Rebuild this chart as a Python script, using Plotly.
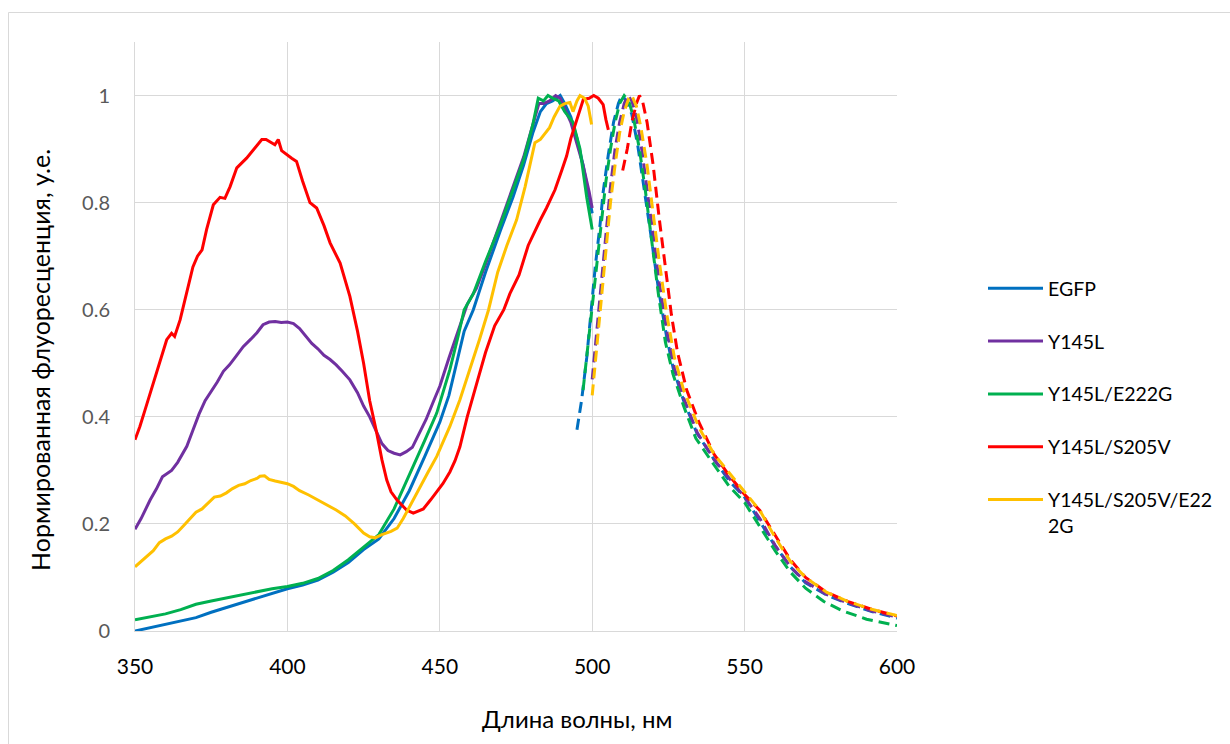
import plotly.graph_objects as go

# ---------------- data ----------------
series_names = ["EGFP", "Y145L", "Y145L/E222G", "Y145L/S205V", "Y145L/S205V/E22<br>2G"]
series_colors = ["#0070C0", "#7030A0", "#00B050", "#FF0000", "#FFC000"]

x_ticks = [350, 400, 450, 500, 550, 600]
y_ticks = [0, 0.2, 0.4, 0.6, 0.8, 1]

# excitation spectra (solid)
egfp_ex_nm = [350, 355, 360, 365, 370, 375, 380, 385, 390, 395, 400, 405, 410, 415, 420, 425, 430, 435,
              440, 445, 450, 453, 456, 458, 461, 465, 470, 474, 477.5, 480.5, 483, 485, 487, 489.5,
              491, 493, 495, 497, 499, 500]
egfp_ex = [0.0, 0.006, 0.013, 0.018, 0.025, 0.035, 0.044, 0.053, 0.062, 0.07, 0.079, 0.086, 0.095, 0.11,
           0.128, 0.152, 0.172, 0.21, 0.262, 0.325, 0.39, 0.44, 0.51, 0.56, 0.6, 0.67, 0.75, 0.81, 0.87,
           0.93, 0.97, 0.985, 0.99, 1.0, 0.985, 0.96, 0.92, 0.87, 0.81, 0.78]

y145l_ex_nm = [350, 352, 355, 357, 359, 362, 364, 367, 369, 371, 373, 375, 377, 379, 381, 383, 385.5, 388,
               390, 392, 394, 396, 398, 400, 402, 404, 406, 408, 410, 412, 414, 416, 418, 420.5, 423, 425,
               427, 429, 431, 433, 435, 437, 439, 441, 443, 445.5, 448, 450, 453, 456, 459, 462, 465, 470,
               474, 477.5, 480.5, 482.5, 484, 486, 488, 489.5, 491, 493, 495, 497, 499, 500]
y145l_ex = [0.19, 0.21, 0.245, 0.265, 0.288, 0.3, 0.315, 0.345, 0.375, 0.405, 0.43, 0.447, 0.465, 0.485,
            0.497, 0.512, 0.531, 0.545, 0.557, 0.572, 0.577, 0.578, 0.576, 0.577, 0.574, 0.565, 0.55, 0.537,
            0.527, 0.515, 0.507, 0.497, 0.485, 0.469, 0.445, 0.42, 0.4, 0.375, 0.35, 0.337, 0.332, 0.329,
            0.335, 0.343, 0.365, 0.395, 0.43, 0.457, 0.51, 0.56, 0.61, 0.64, 0.685, 0.765, 0.83, 0.885,
            0.945, 0.985, 0.985, 0.99, 1.0, 0.995, 0.975, 0.95, 0.91, 0.87, 0.82, 0.79]

e222g_ex_nm = [350, 355, 360, 365, 370, 375, 380, 385, 390, 395, 400, 405, 410, 415, 420, 425, 430, 435,
               440, 445, 449, 453.3, 456, 458, 461, 465, 470, 474, 477.5, 480.5, 482.3, 484, 485.5, 487,
               489, 491, 493.7, 496, 498.2, 500]
e222g_ex = [0.021, 0.027, 0.032, 0.04, 0.05, 0.056, 0.062, 0.068, 0.074, 0.079, 0.083, 0.089, 0.098, 0.113,
            0.133, 0.157, 0.18, 0.228, 0.29, 0.355, 0.407, 0.488, 0.55, 0.6, 0.63, 0.69, 0.76, 0.825, 0.88,
            0.945, 0.995, 0.99, 1.0, 0.995, 0.99, 0.97, 0.95, 0.9, 0.81, 0.75]

s205v_ex_nm = [350, 351.6, 353.3, 356, 358.2, 360.4, 362, 363, 364.8, 366.4, 369, 370.5, 372, 373.5, 375.7,
               377.9, 379.5, 381.2, 383.4, 386.6, 389.4, 391.6, 393, 395.9, 397, 398.1, 401.4, 403, 405,
               407.4, 409.6, 412, 414, 417.3, 420.5, 423, 425, 427, 429.3, 431, 432.6, 434, 435.9, 439.1,
               441.3, 443, 444.6, 447, 449, 451, 453.3, 455, 456.6, 459, 462, 465, 468, 471, 473, 476, 479,
               481, 483, 485, 487.8, 490, 491.6, 493, 494.9, 496, 497.1, 499, 500.5, 502, 503.6, 504.5, 505.3]
s205v_ex = [0.357, 0.382, 0.413, 0.463, 0.5, 0.544, 0.556, 0.55, 0.581, 0.619, 0.68, 0.7, 0.712, 0.75, 0.796,
            0.81, 0.808, 0.83, 0.865, 0.883, 0.902, 0.918, 0.918, 0.908, 0.918, 0.897, 0.883, 0.877, 0.84,
            0.8, 0.79, 0.757, 0.725, 0.687, 0.625, 0.56, 0.5, 0.43, 0.37, 0.32, 0.282, 0.26, 0.245, 0.226,
            0.22, 0.224, 0.228, 0.245, 0.26, 0.275, 0.297, 0.318, 0.344, 0.4, 0.46, 0.52, 0.57, 0.6, 0.63,
            0.665, 0.72, 0.745, 0.768, 0.79, 0.824, 0.86, 0.887, 0.92, 0.955, 0.975, 0.993, 0.995, 1.0,
            0.995, 0.983, 0.955, 0.936]

s205v_e222g_ex_nm = [350, 352, 354, 356, 358, 360, 362, 364, 366, 368, 370, 372, 374, 376, 378, 380, 382, 384,
                     386, 388, 390, 391, 392.5, 394, 396, 398, 400, 402, 404, 407, 410, 413, 416, 419, 422,
                     425, 427, 428.7, 431, 434, 436, 438, 440, 443, 446, 449, 453.3, 456.6, 460, 463, 466,
                     469, 472, 475.2, 478, 480, 481.2, 483, 486, 487.5, 489.4, 491, 492.7, 493.7, 495, 496,
                     497.5, 498.7, 499.3, 499.8]
s205v_e222g_ex = [0.12, 0.13, 0.14, 0.15, 0.165, 0.172, 0.177, 0.185, 0.197, 0.21, 0.222, 0.228, 0.24, 0.25,
                  0.252, 0.258, 0.266, 0.272, 0.275, 0.281, 0.285, 0.289, 0.29, 0.283, 0.28, 0.277, 0.275,
                  0.27, 0.262, 0.254, 0.245, 0.235, 0.226, 0.215, 0.2, 0.183, 0.176, 0.174, 0.18, 0.186,
                  0.192, 0.21, 0.232, 0.265, 0.295, 0.326, 0.382, 0.432, 0.49, 0.544, 0.6, 0.67, 0.72, 0.768,
                  0.83, 0.88, 0.912, 0.918, 0.94, 0.96, 0.98, 0.985, 0.987, 0.97, 0.99, 1.0, 0.995, 0.98,
                  0.96, 0.946]

# emission spectra (dashed)
egfp_em_nm = [495, 496.5, 498.2, 499.8, 501, 502.6, 503.6, 505.3, 507, 508.6, 509.7, 511.3, 513, 515, 517.3,
              519.5, 521.7, 524.4, 526.6, 530, 534.3, 540, 545, 550, 554, 559.4, 565, 570, 577, 583.5, 592, 600]
egfp_em = [0.376, 0.43, 0.51, 0.61, 0.68, 0.76, 0.82, 0.89, 0.95, 0.985, 1.0, 0.99, 0.965, 0.905, 0.82,
           0.73, 0.64, 0.55, 0.49, 0.43, 0.37, 0.32, 0.28, 0.25, 0.214, 0.164, 0.12, 0.09, 0.067, 0.052,
           0.036, 0.024]

y145l_em_nm = [500, 501.5, 503, 504.5, 506, 507.5, 509, 510.5, 511.7, 513, 514.5, 516, 518, 520, 522, 524.5,
               527, 530, 534.5, 540, 545, 550, 555, 560, 565, 570, 577, 584, 592, 600]
y145l_em = [0.47, 0.56, 0.66, 0.75, 0.83, 0.9, 0.95, 0.985, 1.0, 0.99, 0.96, 0.91, 0.83, 0.74, 0.65, 0.56,
            0.49, 0.435, 0.37, 0.32, 0.285, 0.25, 0.21, 0.16, 0.12, 0.092, 0.068, 0.052, 0.037, 0.026]

e222g_em_nm = [497, 498.5, 500, 501.5, 503, 504.5, 506, 507.5, 509, 510.5, 512, 513.5, 515.5, 517.5, 519.5,
               521.7, 524, 526.5, 530, 534, 540, 545, 550, 555, 560, 565, 570, 576, 582, 590, 600]
e222g_em = [0.45, 0.53, 0.61, 0.69, 0.77, 0.84, 0.9, 0.95, 0.985, 1.0, 0.99, 0.96, 0.9, 0.82, 0.73, 0.63,
            0.54, 0.48, 0.42, 0.36, 0.31, 0.27, 0.24, 0.195, 0.15, 0.11, 0.08, 0.055, 0.038, 0.022, 0.01]

s205v_em_nm = [510, 511.5, 513, 514.5, 515.5, 516.5, 518, 520, 522, 524, 526, 528, 531, 535, 540, 545, 550,
               555, 560, 565, 570, 577, 584, 592, 600]
s205v_em = [0.86, 0.9, 0.95, 0.985, 1.0, 0.99, 0.95, 0.87, 0.77, 0.68, 0.59, 0.52, 0.45, 0.39, 0.33, 0.29,
            0.255, 0.225, 0.178, 0.133, 0.1, 0.072, 0.055, 0.04, 0.028]

s205v_e222g_em_nm = [500, 501.5, 503, 504.5, 506, 507.5, 509, 510.5, 512, 513, 514.5, 516, 518, 520, 522,
                     524.5, 527, 530, 535, 540, 545, 550, 555, 560, 565, 570, 577, 584, 592, 600]
s205v_e222g_em = [0.44, 0.53, 0.62, 0.72, 0.8, 0.87, 0.93, 0.97, 0.995, 1.0, 0.98, 0.94, 0.87, 0.78, 0.69,
                  0.59, 0.51, 0.45, 0.38, 0.33, 0.295, 0.26, 0.225, 0.175, 0.13, 0.1, 0.072, 0.055, 0.04,
                  0.029]

x_title = "Длина волны, нм"
y_title = "Нормированная флуоресценция, у.е."

# ---------------- figure ----------------
W, H = 1230, 744
ML, MR, MT, MB = 135, 333, 42, 113
PW, PH = W - ML - MR, H - MT - MB

ex_sets = [(egfp_ex_nm, egfp_ex), (y145l_ex_nm, y145l_ex), (e222g_ex_nm, e222g_ex),
           (s205v_ex_nm, s205v_ex), (s205v_e222g_ex_nm, s205v_e222g_ex)]
em_sets = [(egfp_em_nm, egfp_em), (y145l_em_nm, y145l_em), (e222g_em_nm, e222g_em),
           (s205v_em_nm, s205v_em), (s205v_e222g_em_nm, s205v_e222g_em)]

fig = go.Figure()
for i, (nm, v) in enumerate(ex_sets):
    fig.add_trace(go.Scatter(x=nm, y=v, mode="lines", name=series_names[i],
                             legendgroup=f"g{i}", showlegend=True,
                             line=dict(color=series_colors[i], width=3)))
for i, (nm, v) in enumerate(em_sets):
    fig.add_trace(go.Scatter(x=nm, y=v, mode="lines", name=series_names[i],
                             legendgroup=f"g{i}", showlegend=False,
                             line=dict(color=series_colors[i], width=3, dash="11px,6px")))

def px_x(p):
    return (p - ML) / PW

def px_y(p):
    return (H - MB - p) / PH

font_main = "Lato, 'Noto Sans', sans-serif"

fig.update_layout(
    width=W, height=H,
    margin=dict(l=ML, r=MR, t=MT, b=MB),
    paper_bgcolor="white", plot_bgcolor="white",
    font=dict(family=font_main, color="#000000"),
    xaxis=dict(range=[350, 600], tickvals=x_ticks, showgrid=True, gridcolor="#d9d9d9", gridwidth=1,
               showline=True, linecolor="#d9d9d9", linewidth=1, zeroline=False, ticks="",
               tickfont=dict(size=21, color="#000000", family=font_main), ticklabelstandoff=17,
               fixedrange=True),
    yaxis=dict(range=[0, 1.1], tickvals=y_ticks, ticktext=[str(t) for t in y_ticks], showgrid=True,
               gridcolor="#d9d9d9", gridwidth=1, showline=True, linecolor="#d9d9d9", linewidth=1,
               zeroline=False, ticks="", tickfont=dict(size=20, color="#595959", family=font_main),
               ticklabelstandoff=20, fixedrange=True),
    legend=dict(xref="container", yref="container", x=983 / W, y=1 - 269 / H,
                xanchor="left", yanchor="top", font=dict(size=19.5, color="#000000", family=font_main),
                itemwidth=55, tracegroupgap=24.5, valign="top", bgcolor="rgba(0,0,0,0)",
                borderwidth=0),
    showlegend=True,
    annotations=[
        dict(text=x_title, xref="paper", yref="paper", x=px_x(577), y=px_y(718),
             xanchor="center", yanchor="middle", showarrow=False,
             font=dict(size=24, color="#000000", family=font_main)),
        dict(text=y_title, xref="paper", yref="paper", x=px_x(40), y=px_y(360),
             xanchor="center", yanchor="middle", showarrow=False, textangle=-90,
             font=dict(size=25, color="#000000", family=font_main)),
    ],
    shapes=[
        dict(type="rect", xref="paper", yref="paper", x0=px_x(8.5), x1=px_x(1240),
             y0=px_y(760), y1=px_y(12.5), line=dict(color="#d9d9d9", width=1),
             fillcolor="rgba(0,0,0,0)", layer="below"),
    ],
)

fig.write_html("out.html")
